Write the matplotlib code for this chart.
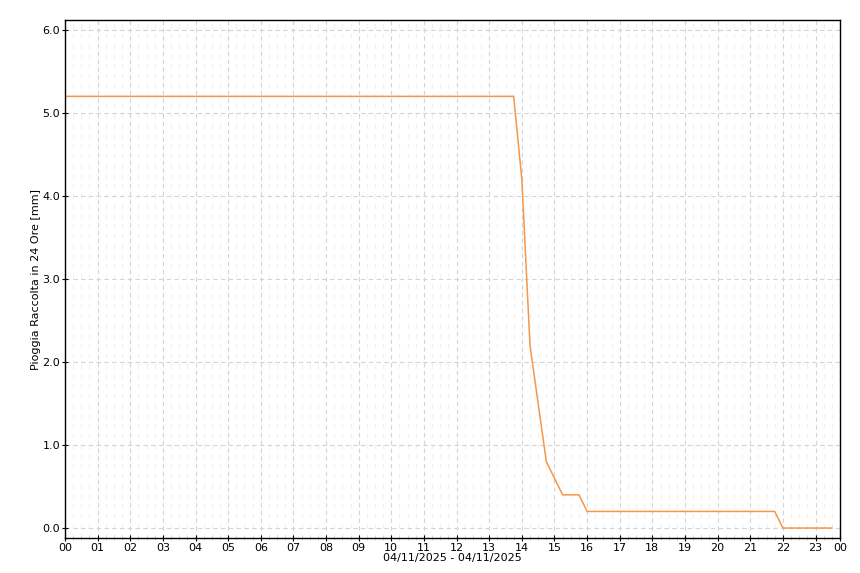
import matplotlib
matplotlib.use("Agg")
import matplotlib.pyplot as plt
from matplotlib.ticker import FixedLocator, MultipleLocator, FormatStrFormatter

# breakpoints of the rain curve (15 minute data, straight segments in between)
times = ["00:00", "13:45", "14:00", "14:15", "14:30", "14:45", "15:00",
         "15:15", "15:45", "16:00", "21:45", "22:00", "23:30"]
rain = [5.2, 5.2, 4.2, 2.2, 1.5, 0.8, 0.6, 0.4, 0.4, 0.2, 0.2, 0.0, 0.0]

hour_labels = ["%02d" % h for h in range(24)] + ["00"]
date_label = "04/11/2025 - 04/11/2025"
y_label = "Pioggia Raccolta in 24 Ore [mm]"


def to_hours(t):
    h, m = t.split(":")
    return int(h) + int(m) / 60.0


x = [to_hours(t) for t in times]

fig = plt.figure(figsize=(8.6, 5.73), dpi=100)
ax = fig.add_axes([65 / 860, 35 / 573, 775 / 860, 518 / 573])

ax.plot(x, rain, color="#f79646", lw=1.1)

ax.set_xlim(0, 23.75)
ax.set_ylim(-0.12, 6.12)

tick_pos = list(range(24)) + [23.75]
ax.xaxis.set_major_locator(FixedLocator(tick_pos))
ax.set_xticklabels(hour_labels)
ax.xaxis.set_minor_locator(MultipleLocator(0.25))
ax.yaxis.set_major_locator(MultipleLocator(1.0))
ax.yaxis.set_major_formatter(FormatStrFormatter("%.1f"))

ax.grid(True, which="major", color="#d4d4d4", ls=(0, (4, 3)), lw=0.8)
ax.grid(True, which="minor", axis="x", color="#f0f0f0", ls=(0, (4, 5)), lw=0.8)

ax.tick_params(which="major", direction="inout", length=5, width=0.8,
               labelsize=8, pad=1, colors="black")
ax.tick_params(which="minor", direction="inout", length=3, width=0.6,
               color="#cccccc")
ax.tick_params(axis="y", which="minor", length=0)

for s in ax.spines.values():
    s.set_color("black")
    s.set_linewidth(1)

ax.set_xlabel(date_label, fontsize=8, labelpad=0)
ax.set_ylabel(y_label, fontsize=8, labelpad=1)

fig.savefig("out.png", dpi=100, facecolor="white")
